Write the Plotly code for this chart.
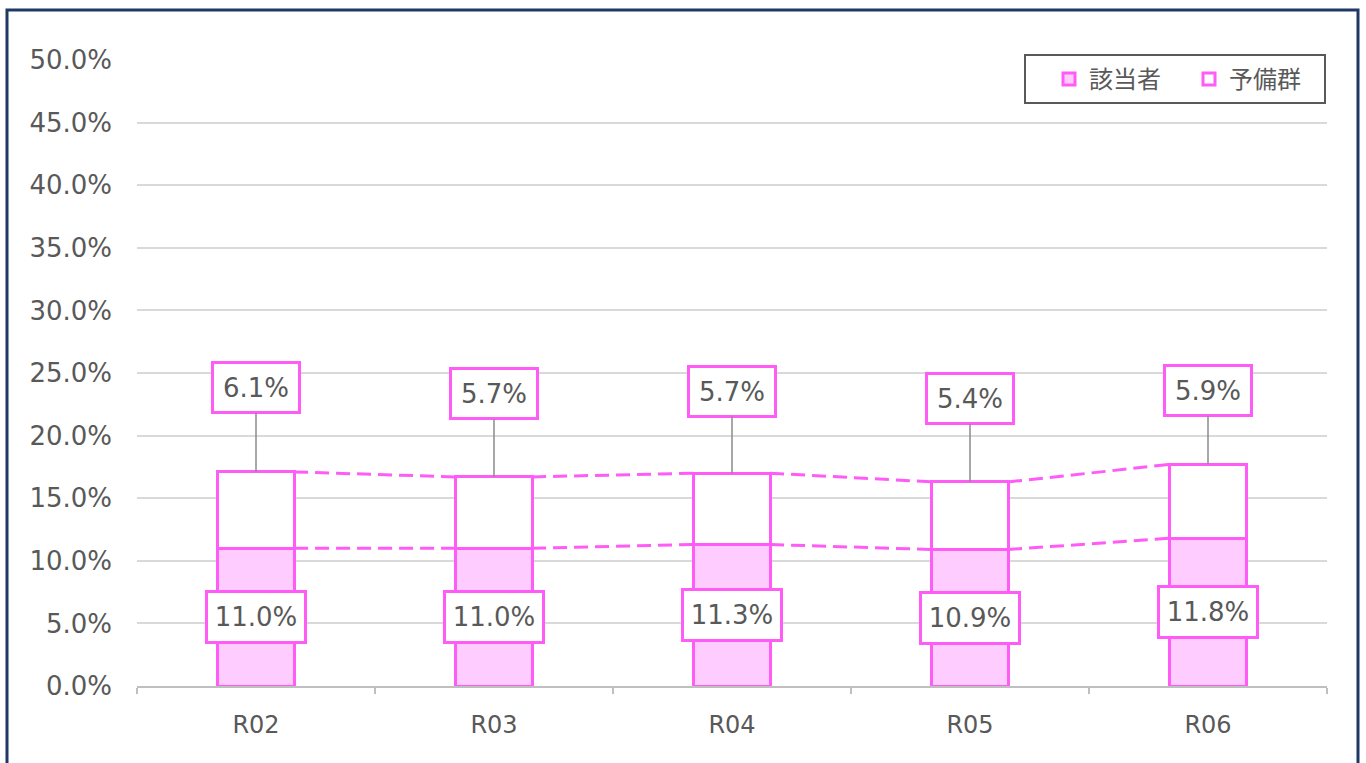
import plotly.graph_objects as go

categories = ["R02", "R03", "R04", "R05", "R06"]
gaitousha = [11.0, 11.0, 11.3, 10.9, 11.8]   # 該当者 (%)
yobigun = [6.1, 5.7, 5.7, 5.4, 5.9]          # 予備群 (%)
y_ticks = [0, 5, 10, 15, 20, 25, 30, 35, 40, 45, 50]

MAGENTA = "#FF5CF7"
PINK = "#FFCCFF"
TXT = "#595959"
FONT = "DejaVu Sans, Noto Sans CJK JP"
BAR_W = 0.32
label_offsets = [-84, -83, -82, -83, -74]  # pixel offset of top labels

x = list(range(len(categories)))
totals = [a + b for a, b in zip(gaitousha, yobigun)]

fig = go.Figure()
fig.add_bar(x=x, y=gaitousha, name="該当者", width=BAR_W,
            marker=dict(color=PINK, line=dict(color=MAGENTA, width=3)))
fig.add_bar(x=x, y=yobigun, name="予備群", width=BAR_W,
            marker=dict(color="white", line=dict(color=MAGENTA, width=3)))

# series lines between bars
for series in (gaitousha, totals):
    lx, ly = [], []
    for i in range(len(x) - 1):
        lx += [x[i] + BAR_W / 2, x[i + 1] - BAR_W / 2, None]
        ly += [series[i], series[i + 1], None]
    fig.add_scatter(x=lx, y=ly, mode="lines", showlegend=False, hoverinfo="skip",
                    line=dict(color=MAGENTA, width=3, dash="14px,7px"))

ann = []
for i in x:
    ann.append(dict(x=i, y=gaitousha[i] / 2, text=f"{gaitousha[i]:.1f}%", showarrow=False,
                    font=dict(size=26, color=TXT, family=FONT), bgcolor="white",
                    width=88, height=40, align="center", valign="middle",
                    bordercolor=MAGENTA, borderwidth=3, borderpad=4))
    ann.append(dict(x=i, y=totals[i], text=f"{yobigun[i]:.1f}%", showarrow=True,
                    arrowhead=0, arrowwidth=1.5, arrowcolor="#8C8C8C", ax=0, ay=label_offsets[i],
                    font=dict(size=26, color=TXT, family=FONT), bgcolor="white",
                    width=76, height=39, align="center", valign="middle",
                    bordercolor=MAGENTA, borderwidth=3, borderpad=4))

L, R, T, B = 137, 39, 60, 77
W, H = 1366, 763
pw, ph = W - L - R, H - T - B

def px_x(p):
    return (p - L) / pw

def px_y(p):
    return (H - B - p) / ph

fig.update_layout(
    width=W, height=H,
    margin=dict(l=L, r=R, t=T, b=B, autoexpand=False),
    barmode="stack",
    plot_bgcolor="white", paper_bgcolor="white",
    font=dict(family=FONT, color=TXT, size=24),
    annotations=ann,
    legend=dict(orientation="h", x=px_x(1049), y=px_y(57), xanchor="left", yanchor="top",
                borderwidth=0, bgcolor="rgba(0,0,0,0)", entrywidth=95,
                font=dict(size=24, color=TXT, family="Noto Sans CJK JP"), traceorder="normal"),
    shapes=[dict(type="rect", xref="paper", yref="paper",
                 x0=px_x(7), x1=px_x(1358), y0=px_y(790), y1=px_y(10),
                 line=dict(color="#1F3864", width=3), layer="below"),
            dict(type="rect", xref="paper", yref="paper",
                 x0=px_x(1025), x1=px_x(1325), y0=px_y(103), y1=px_y(55),
                 line=dict(color="#595959", width=2), fillcolor="white", layer="above")],
    xaxis=dict(range=[-0.5, 4.5], tickvals=x, ticktext=categories, ticks="",
               showgrid=False, showline=True, linecolor="#BFBFBF", linewidth=2,
               tickfont=dict(size=24, color=TXT), zeroline=False, ticklabelstandoff=16,
               minor=dict(tickvals=[-0.5, 0.5, 1.5, 2.5, 3.5, 4.5], ticks="outside",
                          ticklen=6, tickcolor="#BFBFBF", tickwidth=2, showgrid=False)),
    yaxis=dict(range=[0, 50], tickvals=y_ticks, ticktext=[f"{v:.1f}%" for v in y_ticks],
               showgrid=True, gridcolor="#D9D9D9", gridwidth=2, zeroline=False,
               showline=False, ticks="", ticklabelstandoff=24,
               tickfont=dict(size=26, color=TXT)),
)

fig.write_html("out.html", config={"displayModeBar": False},
               post_script="document.body.style.margin='0';")
